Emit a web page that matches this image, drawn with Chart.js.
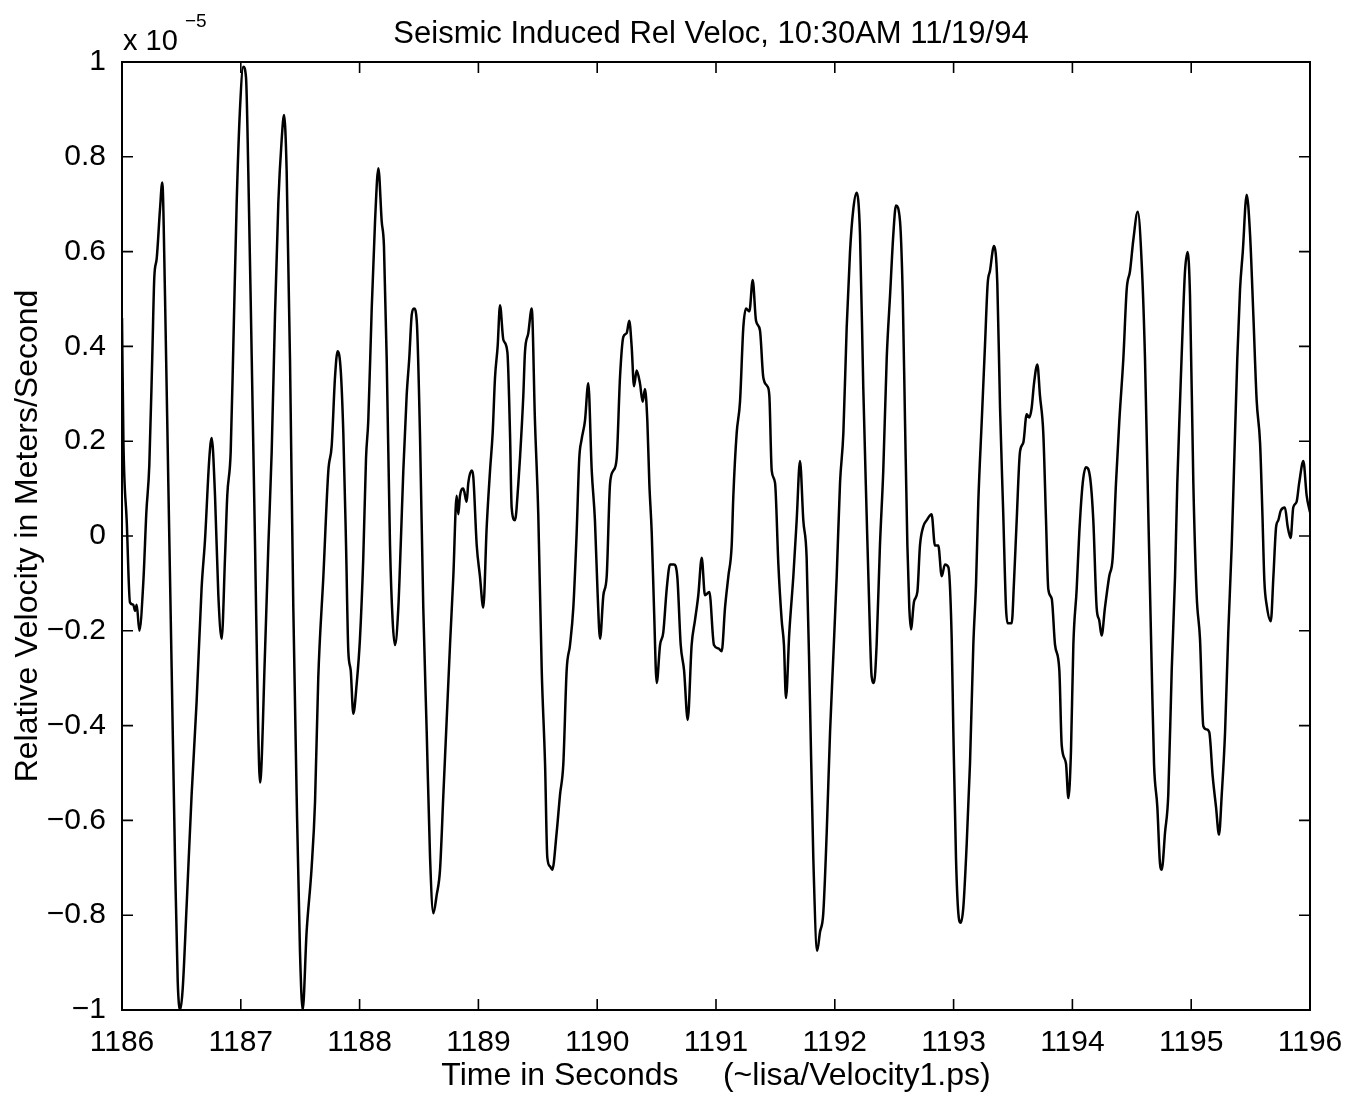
<!DOCTYPE html>
<html>
<head>
<meta charset="utf-8">
<script src="https://cdn.jsdelivr.net/npm/chart.js@4.4.1/dist/chart.umd.min.js"></script>
<style>
html, body { margin: 0; padding: 0; background: #fff; }
#wrap { width: 1361px; height: 1093px; }
</style>
</head>
<body>
<div id="wrap"><canvas id="grafico" width="1361" height="1093"></canvas></div>
<script>
// tempo em segundos e velocidade relativa (x 1e-5 m/s)
const tempo = [
    1186.000, 1186.012, 1186.040, 1186.067, 1186.095, 1186.110, 1186.124, 1186.146, 1186.180, 1186.205,
    1186.230, 1186.255, 1186.272, 1186.292, 1186.320, 1186.339, 1186.362, 1186.390, 1186.418, 1186.446,
    1186.469, 1186.490, 1186.511, 1186.544, 1186.586, 1186.628, 1186.670, 1186.699, 1186.735, 1186.755,
    1186.783, 1186.811, 1186.839, 1186.867, 1186.886, 1186.915, 1186.937, 1186.965, 1186.993, 1187.021,
    1187.044, 1187.063, 1187.092, 1187.120, 1187.147, 1187.162, 1187.204, 1187.232, 1187.260, 1187.288,
    1187.316, 1187.344, 1187.364, 1187.386, 1187.414, 1187.442, 1187.470, 1187.498, 1187.521, 1187.554,
    1187.596, 1187.625, 1187.652, 1187.695, 1187.737, 1187.765, 1187.793, 1187.815, 1187.841, 1187.863,
    1187.886, 1187.905, 1187.925, 1187.947, 1187.976, 1188.003, 1188.031, 1188.054, 1188.073, 1188.102,
    1188.130, 1188.158, 1188.186, 1188.205, 1188.228, 1188.256, 1188.278, 1188.298, 1188.326, 1188.346,
    1188.368, 1188.396, 1188.418, 1188.439, 1188.458, 1188.481, 1188.508, 1188.536, 1188.565, 1188.593,
    1188.621, 1188.649, 1188.677, 1188.705, 1188.733, 1188.761, 1188.789, 1188.817, 1188.831, 1188.845,
    1188.873, 1188.901, 1188.915, 1188.944, 1188.957, 1188.986, 1189.013, 1189.041, 1189.070, 1189.098,
    1189.120, 1189.140, 1189.162, 1189.182, 1189.210, 1189.244, 1189.266, 1189.280, 1189.308, 1189.336,
    1189.350, 1189.378, 1189.392, 1189.420, 1189.449, 1189.476, 1189.504, 1189.533, 1189.561, 1189.580,
    1189.603, 1189.622, 1189.659, 1189.687, 1189.715, 1189.743, 1189.771, 1189.799, 1189.827, 1189.849,
    1189.869, 1189.897, 1189.925, 1189.954, 1189.981, 1190.004, 1190.024, 1190.052, 1190.080, 1190.108,
    1190.136, 1190.164, 1190.192, 1190.220, 1190.248, 1190.270, 1190.290, 1190.310, 1190.332, 1190.360,
    1190.383, 1190.402, 1190.422, 1190.439, 1190.459, 1190.478, 1190.501, 1190.529, 1190.556, 1190.585,
    1190.613, 1190.646, 1190.674, 1190.703, 1190.731, 1190.762, 1190.795, 1190.823, 1190.851, 1190.880,
    1190.907, 1190.944, 1190.983, 1191.020, 1191.048, 1191.076, 1191.104, 1191.132, 1191.146, 1191.174,
    1191.202, 1191.230, 1191.253, 1191.281, 1191.309, 1191.337, 1191.370, 1191.398, 1191.432, 1191.449,
    1191.469, 1191.497, 1191.525, 1191.553, 1191.572, 1191.589, 1191.617, 1191.651, 1191.679, 1191.707,
    1191.735, 1191.763, 1191.791, 1191.819, 1191.852, 1191.875, 1191.903, 1191.932, 1191.960, 1191.987,
    1192.016, 1192.044, 1192.072, 1192.100, 1192.128, 1192.156, 1192.184, 1192.212, 1192.240, 1192.268,
    1192.290, 1192.310, 1192.330, 1192.352, 1192.380, 1192.408, 1192.437, 1192.465, 1192.493, 1192.515,
    1192.549, 1192.572, 1192.591, 1192.611, 1192.627, 1192.641, 1192.667, 1192.695, 1192.717, 1192.745,
    1192.773, 1192.815, 1192.843, 1192.871, 1192.900, 1192.927, 1192.956, 1192.984, 1192.998, 1193.020,
    1193.040, 1193.060, 1193.082, 1193.110, 1193.138, 1193.166, 1193.189, 1193.208, 1193.237, 1193.264,
    1193.287, 1193.306, 1193.340, 1193.368, 1193.391, 1193.418, 1193.441, 1193.455, 1193.489, 1193.508,
    1193.531, 1193.559, 1193.587, 1193.615, 1193.637, 1193.657, 1193.677, 1193.705, 1193.727, 1193.755,
    1193.778, 1193.797, 1193.826, 1193.854, 1193.890, 1193.910, 1193.946, 1193.966, 1193.988, 1194.008,
    1194.036, 1194.058, 1194.087, 1194.114, 1194.148, 1194.176, 1194.204, 1194.226, 1194.246, 1194.274,
    1194.310, 1194.339, 1194.367, 1194.395, 1194.429, 1194.457, 1194.485, 1194.513, 1194.550, 1194.584,
    1194.611, 1194.639, 1194.668, 1194.687, 1194.715, 1194.737, 1194.752, 1194.780, 1194.807, 1194.836,
    1194.864, 1194.883, 1194.906, 1194.934, 1194.948, 1194.970, 1194.990, 1195.018, 1195.046, 1195.074,
    1195.102, 1195.130, 1195.152, 1195.181, 1195.209, 1195.234, 1195.257, 1195.285, 1195.312, 1195.341,
    1195.360, 1195.388, 1195.411, 1195.434, 1195.467, 1195.495, 1195.523, 1195.551, 1195.580, 1195.599,
    1195.616, 1195.636, 1195.670, 1195.692, 1195.715, 1195.733, 1195.753, 1195.789, 1195.812, 1195.837,
    1195.859, 1195.887, 1195.909, 1195.944, 1195.972, 1196.000
];

const velocidade = [
    0.46, 0.20, 0.03, -0.14, -0.145, -0.158, -0.145, -0.20, -0.095, 0.05,
    0.15, 0.38, 0.546, 0.585, 0.69, 0.746, 0.507, 0.11, -0.28, -0.68,
    -0.94, -1.0, -0.955, -0.78, -0.546, -0.35, -0.11, -0.007, 0.164, 0.207,
    0.085, -0.125, -0.217, -0.046, 0.085, 0.178, 0.40, 0.70, 0.90, 0.99,
    0.967, 0.77, 0.375, -0.02, -0.414, -0.52, -0.243, -0.02, 0.178, 0.467,
    0.704, 0.836, 0.888, 0.77, 0.375, -0.151, -0.546, -0.875, -1.0, -0.835,
    -0.70, -0.56, -0.30, -0.085, 0.138, 0.19, 0.335, 0.39, 0.35, 0.217,
    -0.02, -0.243, -0.283, -0.375, -0.31, -0.217, -0.046, 0.164, 0.243, 0.48,
    0.664, 0.776, 0.664, 0.612, 0.375, -0.02, -0.178, -0.23, -0.151, -0.02,
    0.138, 0.296, 0.375, 0.467, 0.48, 0.454, 0.217, -0.151, -0.414, -0.678,
    -0.796, -0.757, -0.704, -0.546, -0.388, -0.23, -0.085, 0.085, 0.046, 0.085,
    0.10, 0.072, 0.112, 0.138, 0.125, -0.02, -0.085, -0.151, 0.02, 0.138,
    0.217, 0.335, 0.40, 0.487, 0.414, 0.388, 0.217, 0.06, 0.033, 0.11,
    0.164, 0.296, 0.388, 0.428, 0.48, 0.243, 0.046, -0.283, -0.48, -0.678,
    -0.697, -0.704, -0.625, -0.546, -0.48, -0.283, -0.23, -0.151, 0.007, 0.164,
    0.204, 0.243, 0.322, 0.138, 0.033, -0.125, -0.217, -0.125, -0.085, 0.11,
    0.138, 0.164, 0.335, 0.42, 0.428, 0.454, 0.40, 0.316, 0.349, 0.322,
    0.283, 0.31, 0.243, 0.11, 0.007, -0.151, -0.31, -0.23, -0.204, -0.112,
    -0.06, -0.06, -0.085, -0.23, -0.283, -0.388, -0.23, -0.178, -0.125, -0.046,
    -0.125, -0.118, -0.23, -0.237, -0.243, -0.151, -0.085, -0.02, 0.085, 0.217,
    0.283, 0.44, 0.48, 0.474, 0.54, 0.454, 0.434, 0.335, 0.316, 0.296,
    0.138, 0.112, -0.06, -0.178, -0.23, -0.342, -0.204, -0.085, 0.033, 0.158,
    0.033, -0.046, -0.349, -0.678, -0.875, -0.836, -0.796, -0.625, -0.414, -0.257,
    -0.085, 0.112, 0.217, 0.44, 0.599, 0.69, 0.724, 0.638, 0.31, 0.046,
    -0.151, -0.296, -0.31, -0.23, -0.02, 0.138, 0.375, 0.507, 0.638, 0.697,
    0.664, 0.507, 0.243, -0.02, -0.151, -0.197, -0.138, -0.118, -0.02, 0.02,
    0.033, 0.046, -0.02, -0.02, -0.085, -0.06, -0.066, -0.217, -0.414, -0.678,
    -0.796, -0.816, -0.783, -0.651, -0.48, -0.23, -0.099, 0.072, 0.243, 0.401,
    0.533, 0.559, 0.612, 0.533, 0.27, 0.046, -0.151, -0.184, -0.184, -0.099,
    0.033, 0.178, 0.197, 0.257, 0.25, 0.27, 0.322, 0.362, 0.296, 0.217,
    0.033, -0.112, -0.132, -0.23, -0.283, -0.441, -0.48, -0.553, -0.454, -0.23,
    -0.112, 0.007, 0.112, 0.145, 0.125, 0.033, -0.151, -0.178, -0.21, -0.151,
    -0.085, -0.046, 0.112, 0.243, 0.375, 0.52, 0.559, 0.625, 0.684, 0.572,
    0.375, 0.046, -0.283, -0.48, -0.572, -0.69, -0.704, -0.625, -0.546, -0.283,
    -0.085, 0.112, 0.283, 0.48, 0.559, 0.599, 0.507, 0.112, -0.125, -0.217,
    -0.401, -0.408, -0.414, -0.507, -0.572, -0.63, -0.546, -0.414, -0.204, -0.02,
    0.138, 0.375, 0.52, 0.599, 0.72, 0.638, 0.467, 0.286, 0.195, 0.05,
    -0.095, -0.147, -0.18, -0.085, 0.02, 0.033, 0.053, 0.06, 0.02, -0.004,
    0.06, 0.072, 0.112, 0.158, 0.085, 0.05
];

const titulo = "Seismic Induced Rel Veloc, 10:30AM 11/19/94";
const tituloX = "Time in Seconds     (~lisa/Velocity1.ps)";
const tituloY = "Relative Velocity in Meters/Second";
const fonte = "'Liberation Sans', Arial, Helvetica, sans-serif";

const pontos = tempo.map((t, i) => ({ x: t, y: velocidade[i] }));

function formatarY(v) {
    const r = Math.round(v * 10) / 10;
    if (r === 0) return "0";
    let txt = Math.abs(r) === 1 ? "1" : Math.abs(r).toFixed(1);
    return r < 0 ? "\u2212" + txt : txt;
}

// moldura com marcas para dentro, titulo e expoente
const moldura = {
    id: "moldura",
    afterDatasetsDraw(chart) {
        const { ctx, chartArea: a, scales } = chart;
        const tam = 11;
        ctx.save();
        ctx.strokeStyle = "#000";
        ctx.lineWidth = 2;
        ctx.strokeRect(a.left, a.top, a.right - a.left, a.bottom - a.top);
        ctx.lineWidth = 1.6;
        ctx.beginPath();
        scales.x.ticks.forEach(t => {
            const px = scales.x.getPixelForValue(t.value);
            ctx.moveTo(px, a.bottom); ctx.lineTo(px, a.bottom - tam);
            ctx.moveTo(px, a.top); ctx.lineTo(px, a.top + tam);
        });
        scales.y.ticks.forEach(t => {
            const py = scales.y.getPixelForValue(t.value);
            ctx.moveTo(a.left, py); ctx.lineTo(a.left + tam, py);
            ctx.moveTo(a.right, py); ctx.lineTo(a.right - tam, py);
        });
        ctx.stroke();

        ctx.fillStyle = "#000";
        ctx.textBaseline = "alphabetic";
        ctx.textAlign = "center";
        ctx.font = "31px " + fonte;
        ctx.fillText(titulo, 711, 43);

        ctx.textAlign = "left";
        ctx.font = "29px " + fonte;
        ctx.fillText("x 10", 123, 50);
        ctx.font = "19px " + fonte;
        ctx.fillText("\u22125", 185, 27);
        ctx.restore();
    }
};

const grafico = new Chart(document.getElementById("grafico").getContext("2d"), {
    type: "line",
    data: {
        datasets: [{
            data: pontos,
            borderColor: "#000",
            borderWidth: 2.5,
            pointRadius: 0,
            fill: false,
            cubicInterpolationMode: "monotone"
        }]
    },
    options: {
        responsive: false,
        animation: false,
        devicePixelRatio: 1,
        layout: {
            padding: { top: 62, right: 51, left: 0, bottom: 0 }
        },
        plugins: {
            legend: { display: false },
            title: { display: false },
            tooltip: { enabled: false }
        },
        scales: {
            x: {
                type: "linear",
                min: 1186,
                max: 1196,
                grid: { display: false },
                border: { display: false },
                ticks: {
                    stepSize: 1,
                    color: "#000",
                    padding: 7,
                    maxRotation: 0,
                    font: { family: fonte, size: 30 },
                    callback: v => String(v)
                },
                title: {
                    display: true,
                    text: tituloX,
                    color: "#000",
                    font: { family: fonte, size: 32 },
                    padding: { top: 0, bottom: -2 }
                },
                afterFit(scale) { scale.height = 83; }
            },
            y: {
                min: -1,
                max: 1,
                grid: { display: false },
                border: { display: false },
                ticks: {
                    stepSize: 0.2,
                    color: "#000",
                    padding: 8,
                    font: { family: fonte, size: 30 },
                    callback: v => formatarY(v)
                },
                title: {
                    display: true,
                    text: tituloY,
                    color: "#000",
                    font: { family: fonte, size: 32 },
                    padding: { top: 9, bottom: 0 }
                },
                afterFit(scale) { scale.width = 122; }
            }
        }
    },
    plugins: [moldura]
});
</script>
</body>
</html>
